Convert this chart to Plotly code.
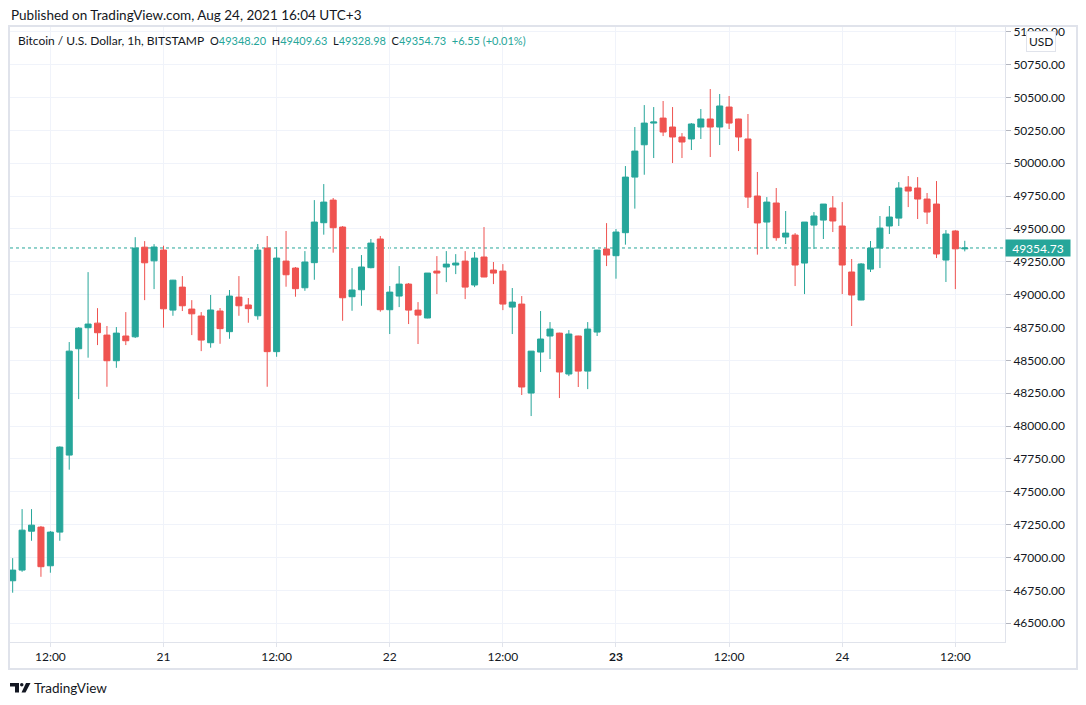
import plotly.graph_objects as go
import pandas as pd

# ---------------- data (BTC/USD, 1h, BITSTAMP) ----------------
start_time = "2021-08-20 08:00"

opens = [46823, 46904, 47200, 47231, 46937, 47193, 47779, 48588, 48748, 48783,
         48692, 48497, 48685, 48679, 49361, 49257, 49339, 48882, 49057, 48890,
         48837, 48634, 48875, 48718, 48981, 48921, 48839, 49354, 48566, 49255,
         49202, 49052, 49243, 49547, 49719, 49514, 48984, 49037, 49205, 49423,
         48885, 48989, 49080, 48882, 48822, 49179, 49210, 49225, 49255, 49073,
         49286, 49187, 49179, 48905, 48928, 48251, 48563, 48685, 48707, 48396,
         48685, 48418, 48715, 49347, 49296, 49471, 49894, 50140, 50305, 50343,
         50275, 50199, 50184, 50275, 50336, 50275, 50427, 50336, 50184, 49750,
         49552, 49697, 49438, 49453, 49240, 49529, 49567, 49659, 49522, 49172,
         48959, 49194, 49354, 49522, 49582, 49818, 49811, 49727, 49689, 49263,
         49484, 49348.20]
highs = [46995, 47368, 47368, 47240, 47201, 47845, 48639, 48753, 49171, 48897,
         48761, 48753, 48867, 49437, 49407, 49384, 49372, 49112, 49141, 48958,
         48867, 48997, 48898, 49035, 49141, 48974, 49385, 49446, 49362, 49484,
         49210, 49331, 49719, 49841, 49735, 49522, 49202, 49301, 49423, 49446,
         49065, 49217, 49088, 48943, 49164, 49293, 49331, 49308, 49331, 49324,
         49514, 49248, 49232, 49050, 48989, 48571, 48875, 48791, 48710, 48730,
         48687, 48791, 49340, 49544, 49499, 49978, 50275, 50442, 50427, 50473,
         50427, 50229, 50305, 50412, 50564, 50526, 50511, 50338, 50374, 49933,
         49742, 49811, 49636, 49468, 49552, 49628, 49689, 49750, 49704, 49271,
         49240, 49408, 49598, 49674, 49856, 49902, 49894, 49773, 49864, 49491,
         49490, 49409.63]
lows = [46732, 46891, 47127, 46853, 46884, 47127, 47668, 48205, 48520, 48616,
        48299, 48443, 48616, 48670, 48958, 49042, 48748, 48839, 48875, 48692,
        48570, 48596, 48626, 48664, 48839, 48786, 48809, 48299, 48527, 49060,
        48984, 49029, 49113, 49456, 49319, 48801, 48877, 48915, 49200, 48870,
        48700, 48905, 48776, 48624, 48820, 49004, 49095, 49156, 48966, 49057,
        49133, 49080, 48882, 48700, 48236, 48076, 48411, 48510, 48213, 48380,
        48297, 48281, 48685, 49217, 49121, 49380, 49654, 49912, 50039, 50206,
        50001, 50039, 50100, 50184, 50047, 50138, 50260, 50092, 49659, 49304,
        49349, 49410, 49385, 49065, 49004, 49347, 49423, 49476, 49004, 48761,
        48958, 49172, 49202, 49461, 49522, 49666, 49575, 49537, 49278, 49096,
        49042, 49328.98]
closes = [46904, 47208, 47246, 46930, 47193, 47840, 48570, 48745, 48776, 48710,
          48497, 48707, 48649, 49354, 49242, 49362, 48892, 49110, 48915, 48854,
          48654, 48883, 48741, 48989, 48915, 48893, 49339, 48566, 49278, 49151,
          49045, 49248, 49552, 49704, 49509, 48976, 49035, 49210, 49392, 48885,
          49019, 49080, 48882, 48844, 49164, 49164, 49232, 49240, 49057, 49278,
          49134, 49164, 48928, 48943, 48297, 48570, 48662, 48738, 48411, 48700,
          48418, 48738, 49339, 49301, 49476, 49894, 50092, 50305, 50313, 50237,
          50199, 50161, 50298, 50336, 50275, 50435, 50305, 50199, 49742, 49545,
          49704, 49433, 49468, 49225, 49552, 49598, 49689, 49560, 49225, 48997,
          49233, 49354, 49506, 49590, 49811, 49788, 49727, 49628, 49309, 49461,
          49348.18, 49354.73]

x_tick_times = ["2021-08-20 12:00", "2021-08-21 00:00", "2021-08-21 12:00",
                "2021-08-22 00:00", "2021-08-22 12:00", "2021-08-23 00:00",
                "2021-08-23 12:00", "2021-08-24 00:00", "2021-08-24 12:00"]
x_tick_labels = ["12:00", "21", "12:00", "22", "12:00", "<b>23</b>", "12:00", "24", "12:00"]
y_tick_values = [46500 + 250 * i for i in range(19)]

last_price = closes[-1]
legend_title = "Bitcoin / U.S. Dollar, 1h, BITSTAMP"
published = "Published on TradingView.com, Aug 24, 2021 16:04 UTC+3"

times = pd.date_range(start_time, periods=len(opens), freq="h")

# ---------------- styling ----------------
UP = "#26a69a"
DOWN = "#ef5350"
TXT = "#131722"
GRID = "#f0f3fa"
BORDER = "#e0e3eb"
FONT = "Lato, 'Noto Sans', sans-serif"

W, H = 1086, 705
L, R, T, B = 10, 1005, 27, 642  # plot area in pixels


def px(xp):
    return (xp - L) / (R - L)


def py(yp):
    return (B - yp) / (B - T)


fig = go.Figure()
fig.add_trace(go.Candlestick(
    x=times, open=opens, high=highs, low=lows, close=closes,
    increasing=dict(line=dict(color=UP, width=1), fillcolor=UP),
    decreasing=dict(line=dict(color=DOWN, width=1), fillcolor=DOWN),
    whiskerwidth=0, showlegend=False, hoverinfo="skip",
))

# last price dotted line
fig.add_shape(type="line", xref="paper", yref="y", x0=0, x1=1,
              y0=last_price, y1=last_price,
              line=dict(color=UP, width=1, dash="dot"), layer="below")

# white mask above the price scale (clips the top tick label like the original)
fig.add_shape(type="rect", xref="paper", yref="paper",
              x0=px(1006), x1=px(1086), y0=py(26), y1=py(0),
              line=dict(width=0), fillcolor="white", layer="above")

# outer frame
fig.add_shape(type="rect", xref="paper", yref="paper",
              x0=px(9), x1=px(1077), y0=py(669), y1=py(26),
              line=dict(color=BORDER, width=2), fillcolor="rgba(0,0,0,0)")

# last price label on axis
fig.add_annotation(xref="paper", yref="y", x=1.0, y=last_price,
                   xanchor="left", yanchor="middle", showarrow=False,
                   text=f"{last_price:.2f}", bgcolor=UP, width=62, height=14,
                   align="center", borderpad=1,
                   font=dict(family=FONT, size=12, color="white"))

# USD box
fig.add_annotation(xref="paper", yref="paper", x=px(1041), y=py(41.5),
                   xanchor="center", yanchor="middle", showarrow=False,
                   text="USD", bgcolor="white", bordercolor=BORDER,
                   borderwidth=1, borderpad=2,
                   font=dict(family=FONT, size=12, color=TXT))

# header text
fig.add_annotation(xref="paper", yref="paper", x=px(9), y=py(15),
                   xanchor="left", yanchor="middle", showarrow=False,
                   text=published, font=dict(family=FONT, size=13.5, color=TXT))

o, h, l, c = opens[-1], highs[-1], lows[-1], closes[-1]
chg = c - closes[-2]
pct = chg / closes[-2] * 100
SP = "&nbsp;&nbsp;"
legend_text = (f"{legend_title}{SP}<span style='font-size:11px'>"
               f"O<span style='color:{UP}'>{o:.2f}</span>{SP}"
               f"H<span style='color:{UP}'>{h:.2f}</span>{SP}"
               f"L<span style='color:{UP}'>{l:.2f}</span>{SP}"
               f"C<span style='color:{UP}'>{c:.2f}</span>{SP}"
               f"<span style='color:{UP}'>+{chg:.2f} (+{pct:.2f}%)</span></span>")
fig.add_annotation(xref="paper", yref="paper", x=px(16), y=py(41),
                   xanchor="left", yanchor="middle", showarrow=False,
                   text=legend_text, font=dict(family=FONT, size=12, color=TXT))

# TradingView logo
fig.add_shape(type="rect", xref="paper", yref="paper",
              x0=px(10), x1=px(19), y0=py(686.5), y1=py(683),
              line=dict(width=0), fillcolor=TXT)
fig.add_shape(type="rect", xref="paper", yref="paper",
              x0=px(15), x1=px(19), y0=py(692.5), y1=py(683),
              line=dict(width=0), fillcolor=TXT)
fig.add_shape(type="circle", xref="paper", yref="paper",
              x0=px(20), x1=px(23.5), y0=py(686.5), y1=py(683),
              line=dict(width=0), fillcolor=TXT)
fig.add_shape(type="path", xref="paper", yref="paper",
              path=(f"M {px(26)} {py(683)} L {px(30.5)} {py(683)} "
                    f"L {px(25.5)} {py(692.5)} L {px(21.5)} {py(692.5)} Z"),
              line=dict(width=0), fillcolor=TXT)
fig.add_annotation(xref="paper", yref="paper", x=px(32), y=py(688),
                   xanchor="left", yanchor="middle", showarrow=False,
                   text="TradingView", font=dict(family=FONT, size=13.5, color=TXT))

fig.update_layout(
    width=W, height=H,
    margin=dict(l=L, r=W - R, t=T, b=H - B),
    paper_bgcolor="white", plot_bgcolor="white",
    font=dict(family=FONT, size=12, color=TXT),
    showlegend=False,
    boxgap=0.2, boxgroupgap=0.2,
    xaxis=dict(
        type="date", range=["2021-08-20 07:43", "2021-08-24 17:16"],
        rangeslider=dict(visible=False),
        tickvals=x_tick_times, ticktext=x_tick_labels,
        showgrid=True, gridcolor=GRID, gridwidth=1,
        showline=True, linecolor=BORDER, linewidth=1,
        ticks="outside", ticklen=4, tickcolor=BORDER,
        tickfont=dict(family=FONT, size=12, color=TXT),
        zeroline=False, fixedrange=True,
    ),
    yaxis=dict(
        side="right", range=[46357, 51036],
        tickvals=y_tick_values, tickformat=".2f",
        showgrid=True, gridcolor=GRID, gridwidth=1,
        showline=True, linecolor=BORDER, linewidth=1,
        ticks="outside", ticklen=5, tickcolor="#b2b5be",
        tickfont=dict(family=FONT, size=12, color=TXT),
        zeroline=False, fixedrange=True,
    ),
)

fig.write_html(
    "out.html",
    config={"displayModeBar": False},
    post_script="document.body.style.margin='0';document.body.style.overflow='hidden';",
)
